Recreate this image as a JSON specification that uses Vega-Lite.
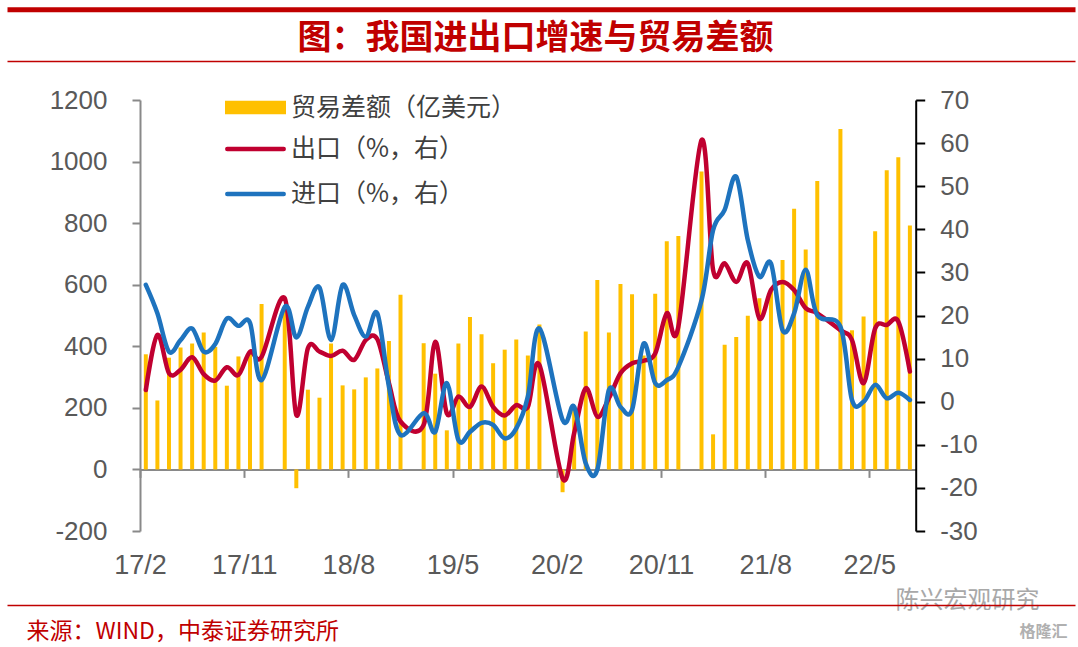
{
  "$schema": "https://vega.github.io/schema/vega-lite/v6.json",
  "autosize": {"type": "none"},
  "padding": {"left": 7, "top": 100, "right": 3, "bottom": 116},
  "width": 1068,
  "height": 431,
  "background": "white",
  "config": {"view": {"stroke": null}, "axis": {"grid": false}},
  "data": {"values": [
    {"month": "17/2", "balance": 374, "export": 2.7, "import": 27.1},
    {"month": "17/3", "balance": 224, "export": 15.5, "import": 20.5},
    {"month": "17/4", "balance": 363, "export": 6.6, "import": 11.6},
    {"month": "17/5", "balance": 396, "export": 7.4, "import": 14.3},
    {"month": "17/6", "balance": 409, "export": 10.3, "import": 17.0},
    {"month": "17/7", "balance": 445, "export": 6.4, "import": 11.6},
    {"month": "17/8", "balance": 398, "export": 4.9, "import": 13.4},
    {"month": "17/9", "balance": 272, "export": 8.0, "import": 19.3},
    {"month": "17/10", "balance": 367, "export": 6.2, "import": 17.6},
    {"month": "17/11", "balance": 376, "export": 11.6, "import": 18.3},
    {"month": "17/12", "balance": 537, "export": 10.4, "import": 5.0},
    {"month": "18/2", "balance": 517, "export": 24.0, "import": 22.0},
    {"month": "18/3", "balance": -61, "export": -3.1, "import": 14.9},
    {"month": "18/4", "balance": 259, "export": 12.4, "import": 22.0},
    {"month": "18/5", "balance": 233, "export": 11.6, "import": 26.5},
    {"month": "18/6", "balance": 409, "export": 10.6, "import": 14.3},
    {"month": "18/7", "balance": 273, "export": 11.8, "import": 27.1},
    {"month": "18/8", "balance": 260, "export": 9.7, "import": 20.1},
    {"month": "18/9", "balance": 299, "export": 14.3, "import": 15.1},
    {"month": "18/10", "balance": 328, "export": 14.5, "import": 20.5},
    {"month": "18/11", "balance": 417, "export": 4.3, "import": 3.5},
    {"month": "18/12", "balance": 567, "export": -4.6, "import": -7.7},
    {"month": "19/2", "balance": 410, "export": -5.4, "import": -2.7},
    {"month": "19/3", "balance": 311, "export": 13.9, "import": -7.0},
    {"month": "19/4", "balance": 127, "export": -2.7, "import": 4.3},
    {"month": "19/5", "balance": 409, "export": 1.2, "import": -8.9},
    {"month": "19/6", "balance": 495, "export": -1.2, "import": -7.0},
    {"month": "19/7", "balance": 439, "export": 3.5, "import": -4.9},
    {"month": "19/8", "balance": 345, "export": -1.2, "import": -5.4},
    {"month": "19/9", "balance": 389, "export": -3.2, "import": -8.5},
    {"month": "19/10", "balance": 422, "export": -0.8, "import": -6.2},
    {"month": "19/11", "balance": 370, "export": -1.2, "import": 1.2},
    {"month": "19/12", "balance": 471, "export": 8.5, "import": 17.0},
    {"month": "20/2", "balance": -74, "export": -17.8, "import": -4.2},
    {"month": "20/3", "balance": 199, "export": -7.3, "import": -1.2},
    {"month": "20/4", "balance": 448, "export": 3.1, "import": -14.3},
    {"month": "20/5", "balance": 615, "export": -3.5, "import": -15.8},
    {"month": "20/6", "balance": 445, "export": 0.8, "import": 2.7},
    {"month": "20/7", "balance": 602, "export": 6.6, "import": -1.2},
    {"month": "20/8", "balance": 569, "export": 8.9, "import": -1.9},
    {"month": "20/9", "balance": 370, "export": 9.5, "import": 13.5},
    {"month": "20/10", "balance": 571, "export": 11.2, "import": 4.3},
    {"month": "20/11", "balance": 741, "export": 20.5, "import": 5.0},
    {"month": "20/12", "balance": 758, "export": 17.4, "import": 8.1},
    {"month": "21/2", "balance": 968, "export": 60.7, "import": 23.5},
    {"month": "21/3", "balance": 114, "export": 30.6, "import": 39.8},
    {"month": "21/4", "balance": 405, "export": 32.1, "import": 44.5},
    {"month": "21/5", "balance": 430, "export": 27.8, "import": 52.2},
    {"month": "21/6", "balance": 499, "export": 32.1, "import": 37.5},
    {"month": "21/7", "balance": 556, "export": 19.3, "import": 29.0},
    {"month": "21/8", "balance": 585, "export": 25.9, "import": 32.1},
    {"month": "21/9", "balance": 680, "export": 27.8, "import": 16.6},
    {"month": "21/10", "balance": 847, "export": 25.9, "import": 20.5},
    {"month": "21/11", "balance": 714, "export": 21.7, "import": 30.6},
    {"month": "21/12", "balance": 937, "export": 20.5, "import": 20.1},
    {"month": "22/2", "balance": 1106, "export": 16.6, "import": 17.4},
    {"month": "22/3", "balance": 452, "export": 14.3, "import": 0.4},
    {"month": "22/4", "balance": 497, "export": 4.3, "import": 0.0},
    {"month": "22/5", "balance": 774, "export": 17.0, "import": 3.9},
    {"month": "22/6", "balance": 972, "export": 17.8, "import": 0.8},
    {"month": "22/7", "balance": 1014, "export": 18.6, "import": 2.1},
    {"month": "22/8", "balance": 792, "export": 7.0, "import": 0.4}
  ]},
  "layer": [
    {
      "encoding": {
        "x": {
          "field": "month", "type": "ordinal",
          "scale": {
            "type": "band",
            "domain": ["17/2","17/3","17/4","17/5","17/6","17/7","17/8","17/9","17/10","17/11","17/12",
                       "18/1","18/2","18/3","18/4","18/5","18/6","18/7","18/8","18/9","18/10","18/11","18/12",
                       "19/1","19/2","19/3","19/4","19/5","19/6","19/7","19/8","19/9","19/10","19/11","19/12",
                       "20/1","20/2","20/3","20/4","20/5","20/6","20/7","20/8","20/9","20/10","20/11","20/12",
                       "21/1","21/2","21/3","21/4","21/5","21/6","21/7","21/8","21/9","21/10","21/11","21/12",
                       "22/1","22/2","22/3","22/4","22/5","22/6","22/7","22/8"],
            "range": [133, 908.7],
            "paddingInner": 0.655,
            "paddingOuter": 0.33
          },
          "axis": {
            "orient": "bottom",
            "offset": -61.6,
            "values": ["17/2","17/11","18/8","19/5","20/2","20/11","21/8","22/5"],
            "domainColor": "#898989", "domainWidth": 2,
            "tickColor": "#898989", "tickWidth": 2, "tickSize": 8, "tickOffset": -5.8,
            "labelFont": "Liberation Sans", "labelFontSize": 27, "labelColor": "#595959",
            "labelPadding": 75, "labelAngle": 0, "labelOverlap": false,
            "title": "格隆汇", "titleX": 1036, "titleY": 162, "titleAlign": "center", "titleBaseline": "middle",
            "titleFont": "Noto Sans CJK SC", "titleFontSize": 16, "titleFontWeight": "bold", "titleColor": "#b0b0b0"
          }
        }
      },
      "layer": [
        {
          "mark": {"type": "bar"},
          "encoding": {
            "y": {
              "field": "balance", "type": "quantitative",
              "scale": {"domain": [-200, 1200], "nice": false, "zero": false},
              "axis": {
                "orient": "left", "offset": -133,
                "values": [-200, 0, 200, 400, 600, 800, 1000, 1200],
                "labelExpr": "'' + datum.value",
                "domainColor": "#898989", "domainWidth": 2,
                "tickColor": "#898989", "tickWidth": 2, "tickSize": 8,
                "labelFont": "Liberation Sans", "labelFontSize": 26, "labelColor": "#595959",
                "labelPadding": 25, "title": null, "grid": false
              }
            },
            "fill": {
              "datum": "贸易差额（亿美元）", "type": "nominal",
              "scale": {"range": ["#FFC000"]},
              "legend": {
                "orient": "none", "legendX": 236, "legendY": -5, "title": null, "padding": 0,
                "symbolType": "M-4,-0.9H4V0.9H-4Z", "symbolSize": 232.6, "symbolOpacity": 1, "symbolStrokeWidth": 0,
                "labelFont": "Noto Sans CJK SC", "labelFontSize": 25, "labelColor": "#404040", "labelOffset": 23,
                "labelLimit": 500
              }
            }
          }
        },
        {
          "transform": [
            {"fold": ["export", "import"], "as": ["series", "pct"]}
          ],
          "mark": {"type": "line", "interpolate": "cardinal", "strokeWidth": 4.5, "strokeJoin": "round", "strokeCap": "round"},
          "encoding": {
            "y": {
              "field": "pct", "type": "quantitative",
              "scale": {"domain": [-30, 70], "nice": false, "zero": false},
              "axis": {
                "orient": "right", "offset": -159.3,
                "values": [-30, -20, -10, 0, 10, 20, 30, 40, 50, 60, 70],
                "labelExpr": "'' + datum.value",
                "domainColor": "#000000", "domainWidth": 2,
                "tickColor": "#000000", "tickWidth": 2, "tickSize": 9,
                "labelFont": "Liberation Sans", "labelFontSize": 26, "labelColor": "#595959",
                "labelPadding": 15, "title": null, "grid": false
              }
            },
            "stroke": {
              "field": "series", "type": "nominal",
              "scale": {"domain": ["export", "import"], "range": ["#C00030", "#1E73BE"]},
              "legend": {
                "orient": "none", "legendX": 236, "legendY": 36.5, "title": null, "padding": 0,
                "symbolType": "M-3.7,0H3.7", "symbolSize": 232.6, "symbolStrokeWidth": 4.5,
                "symbolFillColor": "transparent",
                "labelExpr": "datum.label == 'export' ? '出口（%，右）' : '进口（%，右）'",
                "labelFont": "Noto Sans CJK SC", "labelFontSize": 25, "labelColor": "#404040", "labelOffset": 23,
                "labelLimit": 500,
                "rowPadding": 19,
                "encode": {"symbols": {"update": {"strokeCap": {"value": "round"}}}}
              }
            }
          }
        }
      ],
      "resolve": {"scale": {"y": "independent"}}
    },
    {
      "mark": {"type": "point", "opacity": 0},
      "encoding": {
        "x": {
          "field": "month", "type": "ordinal",
          "axis": {
            "orient": "top", "offset": 90.8,
            "domainColor": "#C00000", "domainWidth": 5, "domainCap": "butt",
            "ticks": false, "labels": false, "grid": false,
            "title": "陈兴宏观研究", "titleX": 888, "titleY": 591, "titleAlign": "left", "titleBaseline": "middle",
            "titleFont": "Noto Sans CJK SC", "titleFontSize": 24, "titleFontWeight": "normal", "titleColor": "#a8a8a8"
          }
        }
      }
    },
    {
      "mark": {"type": "point", "opacity": 0},
      "encoding": {
        "x": {
          "field": "month", "type": "ordinal",
          "axis": {
            "orient": "top", "offset": 39,
            "domainColor": "#C00000", "domainWidth": 1.5,
            "ticks": false, "labels": false, "grid": false,
            "title": "图：我国进出口增速与贸易差额", "titleX": 528, "titleY": -23, "titleAlign": "center", "titleBaseline": "middle",
            "titleFont": "Noto Sans CJK SC", "titleFontSize": 34, "titleFontWeight": "bold", "titleColor": "#C00000"
          }
        }
      }
    },
    {
      "mark": {"type": "point", "opacity": 0},
      "encoding": {
        "x": {
          "field": "month", "type": "ordinal",
          "axis": {
            "orient": "bottom", "offset": 74,
            "domainColor": "#C00000", "domainWidth": 1.5,
            "ticks": false, "labels": false, "grid": false,
            "title": "来源：WIND，中泰证券研究所", "titleX": 19, "titleY": 26, "titleAlign": "left", "titleBaseline": "middle",
            "titleFont": "Noto Sans CJK SC", "titleFontSize": 23, "titleFontWeight": "normal", "titleColor": "#C00000"
          }
        }
      }
    }
  ],
  "resolve": {"scale": {"x": "independent", "y": "independent"}, "axis": {"x": "independent", "y": "independent"}}
}
